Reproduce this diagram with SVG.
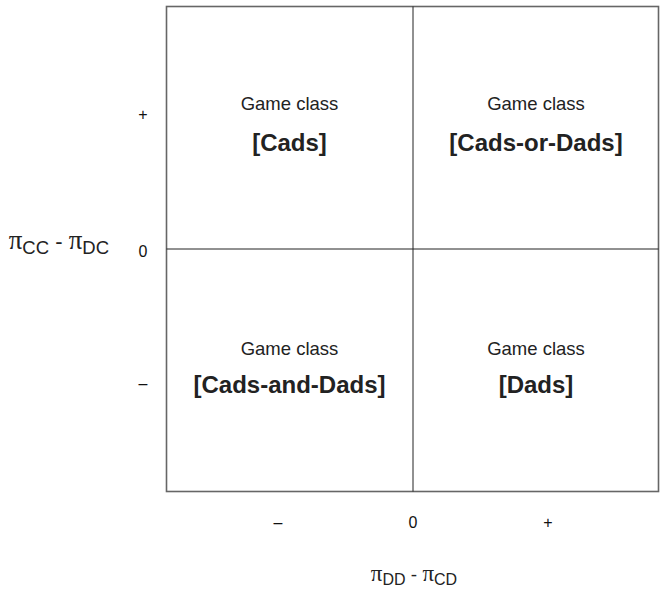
<svg xmlns="http://www.w3.org/2000/svg" width="664" height="596" viewBox="0 0 664 596">
<style>
.frame{fill:none;stroke:#666;stroke-width:1.6}
.axis{stroke:#222;stroke-width:1}
.t{font-family:"Liberation Sans",Arial,sans-serif;fill:#222;text-anchor:middle}
.gc{font-size:18.5px}
.cls{font-size:24px;font-weight:bold}
.tick{font-size:16px;fill:#111}
.pi{font-family:"Liberation Serif","Times New Roman",serif}
.lab{font-family:"Liberation Sans",Arial,sans-serif;fill:#222}
</style>
<rect width="664" height="596" fill="#fff"/>
<g id="frame">
<rect class="frame" x="166.5" y="6.5" width="492" height="485"/>
</g>
<g id="connectors">
<line class="axis" x1="413" y1="6.5" x2="413" y2="491.5"/>
<line class="axis" x1="166.5" y1="249" x2="658.5" y2="249"/>
</g>
<g id="q-cads">
<text class="t gc" x="289.5" y="110">Game class</text>
<text class="t cls" x="289.5" y="151">[Cads]</text>
</g>
<g id="q-cads-or-dads">
<text class="t gc" x="536" y="110">Game class</text>
<text class="t cls" x="536" y="151">[Cads-or-Dads]</text>
</g>
<g id="q-cads-and-dads">
<text class="t gc" x="289.5" y="355">Game class</text>
<text class="t cls" x="289.5" y="393">[Cads-and-Dads]</text>
</g>
<g id="q-dads">
<text class="t gc" x="536" y="355">Game class</text>
<text class="t cls" x="536" y="393">[Dads]</text>
</g>
<g id="y-ticks">
<text class="t tick" x="143" y="120">+</text>
<text class="t tick" x="143" y="257">0</text>
<text class="t tick" x="143" y="389">–</text>
</g>
<g id="x-ticks">
<text class="t tick" x="278" y="528">–</text>
<text class="t tick" x="413" y="528">0</text>
<text class="t tick" x="548" y="528">+</text>
</g>
<g id="y-label">
<text class="lab" x="109" y="249" text-anchor="end" font-size="22"><tspan class="pi" font-size="27">π</tspan><tspan font-size="18.5" dy="5">CC</tspan><tspan dy="-5"> - </tspan><tspan class="pi" font-size="27">π</tspan><tspan font-size="18.5" dy="5">DC</tspan></text>
</g>
<g id="x-label">
<text class="lab" x="414" y="581" text-anchor="middle" font-size="19"><tspan class="pi" font-size="23">π</tspan><tspan font-size="16" dy="4">DD</tspan><tspan dy="-4"> - </tspan><tspan class="pi" font-size="23">π</tspan><tspan font-size="16" dy="4">CD</tspan></text>
</g>
</svg>
